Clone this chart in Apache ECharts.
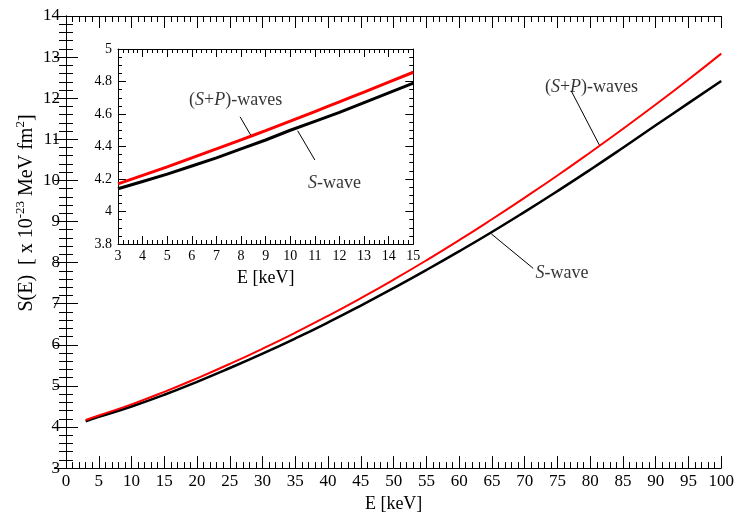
<!DOCTYPE html>
<html>
<head>
<meta charset="utf-8">
<script src="https://cdn.jsdelivr.net/npm/echarts@6/dist/echarts.min.js"></script>
<style>
  html, body { margin: 0; padding: 0; background: #fff; }
  #main { width: 737px; height: 518px; }
</style>
</head>
<body>
<div id="main"></div>
<script>
// main panel: E in keV, S(E) in 1e-23 MeV fm^2
var energyMain = [3, 5, 10, 15, 20, 25, 30, 35, 40, 45, 50, 55, 60, 65, 70, 75, 80, 85, 90, 95, 100];
var spWavesMain = [4.17, 4.28, 4.55, 4.855, 5.185, 5.535, 5.905, 6.295, 6.705, 7.135, 7.585, 8.055, 8.545, 9.055, 9.58, 10.12, 10.68, 11.255, 11.845, 12.455, 13.085];
var sWaveMain = [4.14, 4.245, 4.50, 4.785, 5.10, 5.435, 5.785, 6.155, 6.545, 6.955, 7.38, 7.82, 8.275, 8.745, 9.235, 9.74, 10.26, 10.795, 11.34, 11.88, 12.42];

// inset: low-energy zoom
var energyInset = [3, 4, 5, 6, 7, 8, 9, 10, 11, 12, 13, 14, 15];
var spWavesInset = [4.170, 4.222, 4.275, 4.330, 4.385, 4.441, 4.498, 4.556, 4.615, 4.675, 4.735, 4.796, 4.857];
var sWaveInset = [4.140, 4.185, 4.230, 4.280, 4.330, 4.385, 4.440, 4.500, 4.555, 4.610, 4.670, 4.730, 4.790];

var serif = '"Liberation Serif", "Times New Roman", "DejaVu Serif", serif';

function pairs(xs, ys) {
    return xs.map(function (x, i) { return [x, ys[i]]; });
}

var richItalic = {
    i: { fontFamily: serif, fontSize: 18, fontStyle: 'italic', color: '#000' },
    n: { fontFamily: serif, fontSize: 18, color: '#000' }
};

// frame axis (ticks inward, no labels) used for top / right mirrors
function mirrorAxis(gridIndex, pos, min, max, interval, minorSplit, tickLen, minorLen) {
    return {
        type: 'value', gridIndex: gridIndex, position: pos,
        min: min, max: max, interval: interval,
        axisLine: { lineStyle: { color: '#000', width: 1 } },
        axisTick: { inside: true, length: tickLen, lineStyle: { color: '#000' } },
        minorTick: { show: true, splitNumber: minorSplit, length: minorLen, lineStyle: { color: '#000' } },
        axisLabel: { show: false },
        splitLine: { show: false }
    };
}

var myChart = echarts.init(document.getElementById('main'));

var option = {
    animation: false,
    backgroundColor: '#fff',
    textStyle: { fontFamily: serif },
    grid: [
        { left: 66, right: 15.5, top: 16, bottom: 44 },
        { left: 118, right: 323.7, top: 49, bottom: 274, show: true, backgroundColor: '#fff', borderWidth: 0 }
    ],
    xAxis: [
        {
            type: 'value', gridIndex: 0, position: 'bottom',
            min: 0, max: 100, interval: 5,
            name: 'E [keV]', nameLocation: 'middle', nameGap: 24,
            nameTextStyle: { fontFamily: serif, fontSize: 18, color: '#000' },
            axisLine: { onZero: false, lineStyle: { color: '#000', width: 1 } },
            axisTick: { inside: true, length: 12, lineStyle: { color: '#000' } },
            minorTick: { show: true, splitNumber: 5, length: 6, lineStyle: { color: '#000' } },
            axisLabel: { fontFamily: serif, fontSize: 17, color: '#000', margin: 5 },
            splitLine: { show: false }
        },
        mirrorAxis(0, 'top', 0, 100, 5, 5, 12, 6),
        {
            type: 'value', gridIndex: 1, position: 'bottom',
            min: 3, max: 15, interval: 1,
            name: 'E [keV]', nameLocation: 'middle', nameGap: 25,
            nameTextStyle: { fontFamily: serif, fontSize: 18, color: '#000' },
            axisLine: { onZero: false, lineStyle: { color: '#000', width: 1 } },
            axisTick: { inside: true, length: 8, lineStyle: { color: '#000' } },
            minorTick: { show: true, splitNumber: 5, length: 4, lineStyle: { color: '#000' } },
            axisLabel: { fontFamily: serif, fontSize: 14, color: '#000', margin: 5 },
            splitLine: { show: false }
        },
        mirrorAxis(1, 'top', 3, 15, 1, 5, 8, 4)
    ],
    yAxis: [
        {
            type: 'value', gridIndex: 0, position: 'left',
            min: 3, max: 14, interval: 1,
            axisLine: { onZero: false, lineStyle: { color: '#000', width: 1 } },
            axisTick: { inside: true, length: 12, lineStyle: { color: '#000' } },
            minorTick: { show: true, splitNumber: 5, length: 7, lineStyle: { color: '#000' } },
            axisLabel: { fontFamily: serif, fontSize: 17, color: '#000', margin: 6 },
            splitLine: { show: false }
        },
        mirrorAxis(0, 'right', 3, 14, 1, 5, 12, 7),
        {
            type: 'value', gridIndex: 1, position: 'left',
            min: 3.8, max: 5, interval: 0.2,
            axisLine: { onZero: false, lineStyle: { color: '#000', width: 1 } },
            axisTick: { inside: true, length: 8, lineStyle: { color: '#000' } },
            minorTick: { show: true, splitNumber: 4, length: 4, lineStyle: { color: '#000' } },
            axisLabel: { fontFamily: serif, fontSize: 14, color: '#000', margin: 6 },
            splitLine: { show: false }
        },
        mirrorAxis(1, 'right', 3.8, 5, 0.2, 4, 8, 4)
    ],
    graphic: [
        {
            type: 'text', x: 27, y: 213, rotation: Math.PI / 2,
            style: {
                text: 'S(E)  [ x 10{sup|-23} MeV fm{sup|2}]',
                font: '20px ' + serif,
                fontFamily: serif, fontSize: 20, fill: '#000',
                align: 'center', verticalAlign: 'middle', lineHeight: 26,
                rich: { sup: { fontFamily: serif, fontSize: 13, verticalAlign: 'top', lineHeight: 13 } }
            }
        }
    ],
    series: [
        {
            type: 'line', xAxisIndex: 0, yAxisIndex: 0, smooth: true, symbol: 'none',
            lineStyle: { color: '#000', width: 2.5 },
            data: pairs(energyMain, sWaveMain)
        },
        {
            type: 'line', xAxisIndex: 0, yAxisIndex: 0, smooth: true, symbol: 'none',
            lineStyle: { color: '#ff0000', width: 2 },
            data: pairs(energyMain, spWavesMain)
        },
        {
            type: 'line', xAxisIndex: 2, yAxisIndex: 2, symbol: 'none',
            lineStyle: { color: '#000', width: 3 },
            data: pairs(energyInset, sWaveInset)
        },
        {
            type: 'line', xAxisIndex: 2, yAxisIndex: 2, smooth: true, symbol: 'none',
            lineStyle: { color: '#ff0000', width: 3 },
            data: pairs(energyInset, spWavesInset)
        },
        // label pointers
        {
            type: 'line', xAxisIndex: 0, yAxisIndex: 0, symbol: 'none', lineStyle: { color: '#000', width: 1 },
            data: [[77.1, 12.18], [81.4, 10.86]]
        },
        {
            type: 'line', xAxisIndex: 0, yAxisIndex: 0, symbol: 'none', lineStyle: { color: '#000', width: 1 },
            data: [[64.9, 8.70], [71.3, 7.86]]
        },
        {
            type: 'line', xAxisIndex: 2, yAxisIndex: 2, symbol: 'none', lineStyle: { color: '#000', width: 1 },
            data: [[7.96, 4.583], [8.39, 4.471]]
        },
        {
            type: 'line', xAxisIndex: 2, yAxisIndex: 2, symbol: 'none', lineStyle: { color: '#000', width: 1 },
            data: [[10.30, 4.497], [11.0, 4.317]]
        },
        // label texts
        {
            type: 'scatter', xAxisIndex: 0, yAxisIndex: 0, symbolSize: 0, silent: true,
            data: [[80.2, 12.27, 'sp'], [75.7, 7.73, 's']],
            label: {
                show: true, position: 'inside', align: 'center', verticalAlign: 'middle',
                formatter: function (p) {
                    return p.value[2] === 'sp' ? '{n|(}{i|S}{n|+}{i|P}{n|)-waves}' : '{i|S}{n|-wave}';
                },
                rich: richItalic
            }
        },
        {
            type: 'scatter', xAxisIndex: 2, yAxisIndex: 2, symbolSize: 0, silent: true,
            data: [[7.78, 4.686, 'sp'], [11.8, 4.175, 's']],
            label: {
                show: true, position: 'inside', align: 'center', verticalAlign: 'middle',
                formatter: function (p) {
                    return p.value[2] === 'sp' ? '{n|(}{i|S}{n|+}{i|P}{n|)-waves}' : '{i|S}{n|-wave}';
                },
                rich: richItalic
            }
        }
    ]
};

myChart.setOption(option);
</script>
</body>
</html>
